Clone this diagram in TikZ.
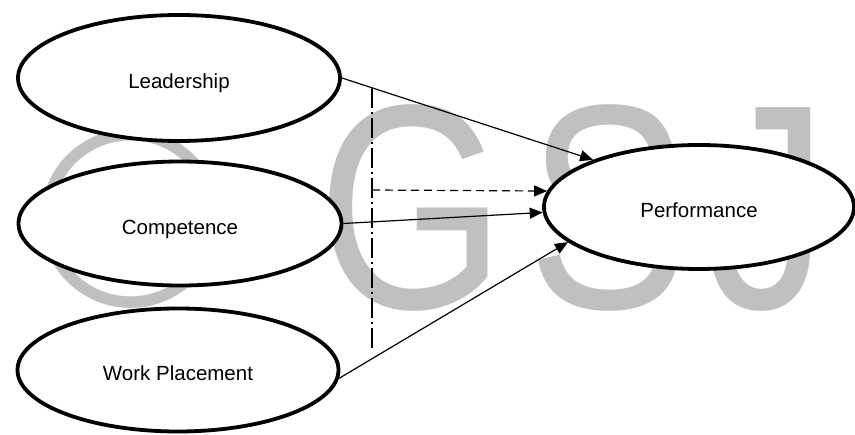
\documentclass[tikz,border=0pt]{standalone}
\usepackage{fontspec}
\setmainfont{Liberation Sans}
\usetikzlibrary{shapes.geometric,arrows.meta}
\definecolor{wmgray}{RGB}{192,192,192}
\begin{document}
\begin{tikzpicture}[x=1pt,y=-1pt,
  oval/.style={ellipse, draw, line width=3.8pt, fill=white, inner sep=0pt,
    text height=22pt, text depth=0pt, font=\fontsize{20.5}{24}\selectfont},
  wm/.style={text=wmgray, inner sep=0pt, anchor=base},
  wmfont/.style={font=\fontsize{292}{292}\selectfont},
  link/.style={line width=1.2pt, -{Triangle[length=13pt,width=11pt]}},
  dashdot/.style={line width=1.3pt, dash pattern=on 20pt off 4pt on 2pt off 4pt},
  dashedlink/.style={link, dash pattern=on 8pt off 5pt}
]
\useasboundingbox (0,0) rectangle (855,435);
% watermark
\node[wm, font=\fontsize{254}{254}\selectfont] (wmc) at (131,307) {©};
\node[wm, wmfont, xscale=0.83] (wmg) at (412,309) {G};
\node[wm, wmfont, xscale=0.83] (wms) at (608,309) {S};
\node[wm, wmfont, xscale=0.83] (wmj) at (768,309) {J};
% ellipses
\node[oval, minimum width=322pt, minimum height=126pt] (lead) at (179,78) {Leadership};
\node[oval, minimum width=323pt, minimum height=124pt] (comp) at (180,223.5) {Competence};
\node[oval, minimum width=321pt, minimum height=123pt] (work) at (178,370) {Work Placement};
\node[oval, minimum width=310pt, minimum height=124pt] (perf) at (699,207) {Performance};
% connectors
\coordinate (vtop) at (372,88);
\coordinate (vbot) at (372,352);
\coordinate (dstart) at (372,190);
\draw[dashdot] (vtop) -- (vbot);
\draw[link] (lead.east) -- (perf.156);
\draw[dashedlink] (dstart) -- (perf.174);
\draw[link] (comp.east) -- (perf.182);
\draw[link] (work.-3) -- (perf.195);
\end{tikzpicture}
\end{document}
